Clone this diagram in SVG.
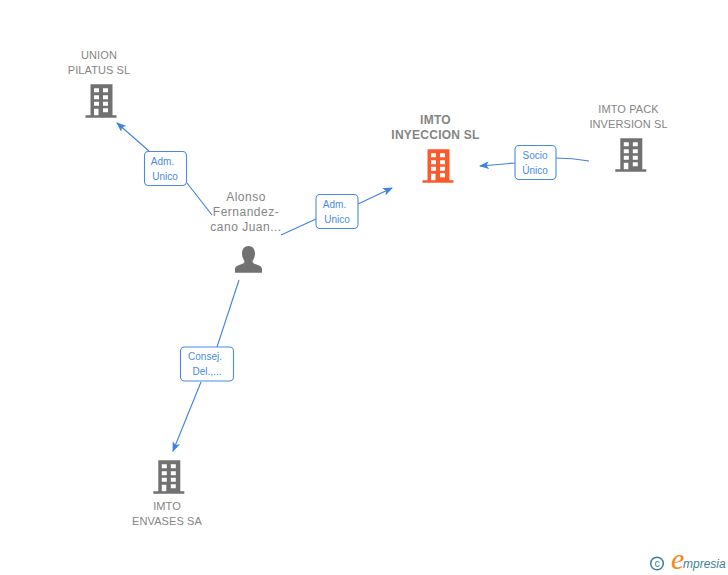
<svg xmlns="http://www.w3.org/2000/svg" width="728" height="575" viewBox="0 0 728 575">
<style>
.n{font-family:"Liberation Sans",Arial,sans-serif;font-size:11px;fill:#858585;text-anchor:middle;letter-spacing:.1px}
.b{font-weight:bold;font-size:12px;letter-spacing:.25px}
.p{font-size:12px;letter-spacing:.5px}
.l{font-family:"Liberation Sans",Arial,sans-serif;font-size:10px;fill:#4a8ae6;text-anchor:middle}
.box{fill:#fff;stroke:#4a8ae6;stroke-width:1.100;}
.c{fill:none;stroke:#3f82e0;stroke-width:1.100}
.w{fill:#fff}
</style>
<defs>
<marker id="a" markerWidth="12" markerHeight="10" refX="9" refY="4" orient="auto" markerUnits="userSpaceOnUse"><path d="M0 0L10 4L0 8L2.500 4Z" fill="#3f82e0"/></marker>
<symbol id="bld" width="32" height="34" viewBox="0 0 32 34" overflow="visible">
<path d="M5 0H27V31H31V33.500H0V31H5Z" fill="currentColor"/>
<path class="w" d="M8.500 4h5v4h-5zM17.500 4h5v4h-5zM8.500 11h5v4h-5zM17.500 11h5v4h-5zM8.500 17.500h5v4h-5zM17.500 17.500h5v4h-5zM17.500 24h5v4h-5zM8.500 24.500h4.500v6.500h-4.500z"/>
</symbol>
</defs>
<g id="connectors">
<path class="c" d="M149 151L117 123" marker-end="url(#a)"/>
<path class="c" d="M212 215L187 183"/>
<path class="c" d="M281 235L316 219"/>
<path class="c" d="M358 204L392 188" marker-end="url(#a)"/>
<path class="c" d="M589 161Q572 158 556 158"/>
<path class="c" d="M515 163L480 166" marker-end="url(#a)"/>
<path class="c" d="M239 280L217 347"/>
<path class="c" d="M201 382L173 451" marker-end="url(#a)"/>
</g>
<g id="node-union">
<text class="n" x="99" y="59">UNION</text><text class="n" x="99" y="74">PILATUS SL</text>
<use href="#bld" x="85.500" y="84.300" color="#717171"/>
</g>
<g id="node-inyeccion">
<text class="n b" x="435.500" y="124">IMTO</text><text class="n b" x="435.500" y="139">INYECCION SL</text>
<use href="#bld" x="422.500" y="149.300" color="#fc5a2c"/>
</g>
<g id="node-pack">
<text class="n" x="628.500" y="113">IMTO PACK</text><text class="n" x="628.500" y="128">INVERSION SL</text>
<use href="#bld" x="615.300" y="138.300" color="#717171"/>
</g>
<g id="node-envases">
<text class="n" x="167" y="510">IMTO</text><text class="n" x="167" y="525">ENVASES SA</text>
<use href="#bld" x="153.300" y="460.300" color="#717171"/>
</g>
<g id="node-person">
<text class="n p" x="246" y="201">Alonso</text><text class="n p" x="246" y="216">Fernandez-</text><text class="n p" x="246" y="231">cano Juan...</text>
<path d="M248.500 246c4 0 6.500 3 6.500 7.500 0 3-1 5.500-2.500 7.500 0 2 1 2.500 4 3.500 4 1.300 5.500 2.500 5.500 5v3.300H235V269.500c0-2.500 1.500-3.700 5.500-5 3-1 4-1.500 4-3.500-1.500-2-2.500-4.500-2.500-7.500 0-4.500 2.500-7.500 6.500-7.500z" fill="#717171"/>
</g>
<g id="label-union">
<rect class="box" x="144.500" y="151.500" width="42" height="34" rx="4"/>
<text class="l" x="162.500" y="165">Adm.</text><text class="l" x="165" y="180">Unico</text>
</g>
<g id="label-inyeccion">
<rect class="box" x="316" y="194.500" width="42" height="34" rx="4"/>
<text class="l" x="334.500" y="208">Adm.</text><text class="l" x="337" y="223">Unico</text>
</g>
<g id="label-pack">
<rect class="box" x="515" y="145.500" width="41" height="34" rx="4"/>
<text class="l" x="535" y="159">Socio</text><text class="l" x="535" y="174">Único</text>
</g>
<g id="label-envases">
<rect class="box" x="180.500" y="347" width="53" height="34" rx="4"/>
<text class="l" x="205" y="360">Consej.</text><text class="l" x="207" y="375">Del.,...</text>
</g>
<g id="logo">
<circle cx="657" cy="563.500" r="6.300" fill="none" stroke="#3c7f92" stroke-width="1.500"/>
<text x="657" y="567" font-family="Liberation Sans,sans-serif" font-size="10.500" fill="#3c7f92" text-anchor="middle">c</text>
<text x="671" y="569" font-family="Liberation Serif,serif" font-style="italic" font-size="30" fill="#f28a1c">e</text>
<text x="683" y="568" font-family="Liberation Sans,sans-serif" font-style="italic" font-size="12" fill="#3c7f92">mpresia</text>
</g>
</svg>
